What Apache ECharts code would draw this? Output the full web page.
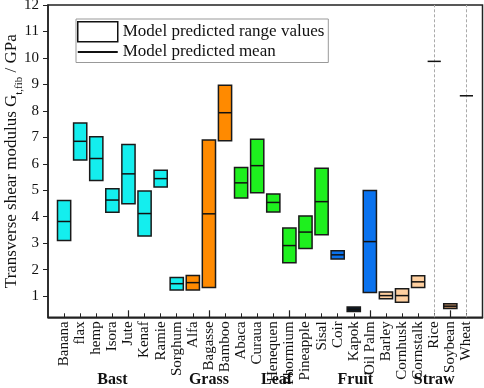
<!DOCTYPE html>
<html>
<head>
<meta charset="utf-8">
<script src="https://cdn.jsdelivr.net/npm/echarts@6/dist/echarts.min.js"></script>
<style>html,body{margin:0;padding:0;background:#fff}#c{width:484px;height:388px}</style>
</head>
<body>
<div id="c"></div>
<script>
const categories = ['Banana','flax','hemp','Isora','Jute','Kenaf','Ramie','Sorghum','Alfa','Bagasse','Bamboo','Abaca','Curaua','Henequen','Phormium','Pineapple','Sisal','Coir','Kapok','Oil Palm','Barley','Cornhusk','Cornstalk','Rice','Soybean','Wheat'];
const lows  = [3.10,6.14,5.37,4.17,4.49,3.27,5.12,1.23,1.23,1.33,6.87,4.71,4.91,4.18,2.26,2.80,3.32,2.40,0.42,1.14,0.90,0.77,1.33,null,0.53,null];
const highs = [4.61,7.54,7.02,5.06,6.73,4.97,5.76,1.70,1.78,6.90,8.97,5.86,6.93,4.86,3.57,4.03,5.83,2.71,0.59,4.99,1.16,1.28,1.77,null,0.71,null];
const means = [3.82,6.85,6.20,4.63,5.62,4.12,5.44,1.47,1.51,4.11,7.93,5.28,5.93,4.54,2.91,3.42,4.57,2.56,0.50,3.06,1.02,1.02,1.54,9.87,0.62,8.57];
const fillKeys = ['c','c','c','c','c','c','c','c','o','o','o','g','g','g','g','g','g','b','k','b','p','p','p','p','s','p'];
const groups = ['Bast','Grass','Leaf','Fruit','Straw'];
const groupPos = [4,10,14.2,19.1,24];
const yTicks = [1,2,3,4,5,6,7,8,9,10,11,12];
const majorX = [5,10,15,20,25];
const meanOnly = ['Rice','Wheat'];

const palette = {c:'#14eeee', o:'#ff8a00', g:'#1ef01e', b:'#0a72ee', k:'#0b1a2a', p:'#ffd0a0', s:'#c8946a'};
const FONT = "'Liberation Serif','Times New Roman',serif";
const pos = categories.map((c,i)=>i+1);

const boxData = [];
categories.forEach((c,i)=>{ if(lows[i]!=null) boxData.push([pos[i], lows[i], highs[i], i]); });
const meanData = categories.map((c,i)=>[pos[i], means[i], i]);

const chart = echarts.init(document.getElementById('c'), null, {renderer:'canvas'});
chart.setOption({
  animation:false,
  textStyle:{fontFamily:FONT},
  grid:{left:48, right:1.5, top:5, bottom:70.7, show:true, borderColor:'#222', borderWidth:1.5,
        backgroundColor:'transparent', containLabel:false, outerBoundsMode:'none'},
  legend:{
    orient:'vertical', left:76, top:19, itemWidth:40, itemHeight:20, itemGap:1,
    padding:[2,4,2,1], borderColor:'#999', borderWidth:1, selectedMode:false,
    textStyle:{fontSize:17, fontFamily:FONT, color:'#111'},
    data:[
      {name:'Model predicted range values', icon:'rect', itemStyle:{color:'#fff', borderColor:'#111', borderWidth:1.5}},
      {name:'Model predicted mean', icon:'path://M0,0 L36,0 L36,1.6 L0,1.6Z', itemStyle:{color:'#111'}}
    ]
  },
  xAxis:[
    {type:'value', min:0, max:27, position:'bottom',
     axisLine:{show:true, onZero:false, lineStyle:{color:'#222', width:1.5}},
     axisTick:{show:true, inside:true, length:4, customValues:pos, lineStyle:{color:'#222', width:1}},
     axisLabel:{customValues:pos, rotate:90, margin:4, fontSize:15, color:'#111', fontFamily:FONT,
       showMinLabel:true, showMaxLabel:true, hideOverlap:false,
       formatter:v=>categories[Math.round(v)-1]||''},
     splitLine:{show:false}},
    {type:'value', min:0, max:27, position:'bottom',
     axisLine:{show:false},
     axisTick:{show:true, inside:true, length:7, customValues:majorX, lineStyle:{color:'#222', width:1.2}},
     axisLabel:{show:false}, splitLine:{show:false}},
    {type:'value', min:0, max:27, position:'bottom',
     axisLine:{show:false}, axisTick:{show:false},
     axisLabel:{customValues:groupPos, margin:55, fontSize:16, fontWeight:'bold', color:'#111', fontFamily:FONT,
       showMinLabel:true, showMaxLabel:true, hideOverlap:false,
       formatter:v=>{const k=groupPos.findIndex(g=>Math.abs(g-v)<1e-6);return k>=0?groups[k]:'';}},
     splitLine:{show:false}}
  ],
  yAxis:{type:'value', min:0.2, max:12,
    name:'Transverse shear modulus G{s|t,fib} / GPa', nameLocation:'middle', nameGap:23, nameRotate:90,
    nameMoveOverlap:false,
    nameTextStyle:{fontSize:17, color:'#111', fontFamily:FONT,
      rich:{s:{fontSize:11, lineHeight:26, verticalAlign:'bottom', fontFamily:FONT, color:'#111'}}},
    axisLine:{show:true, onZero:false, lineStyle:{color:'#222', width:1.5}},
    axisTick:{show:true, inside:false, length:5, customValues:yTicks, lineStyle:{color:'#222'}},
    axisLabel:{customValues:yTicks, fontSize:15, color:'#111', margin:9, fontFamily:FONT,
      showMinLabel:true, showMaxLabel:true},
    splitLine:{show:false}},
  series:[
    {name:'Model predicted range values', type:'custom', xAxisIndex:0, yAxisIndex:0,
     data:boxData, z:2,
     renderItem:(params, api)=>{
       const x=api.value(0), lo=api.value(1), hi=api.value(2), idx=api.value(3);
       const p1=api.coord([x,hi]), p2=api.coord([x,lo]);
       const w=api.size([1,0])[0]*0.82;
       return {type:'rect', shape:{x:p1[0]-w/2, y:p1[1], width:w, height:p2[1]-p1[1]},
         style:{fill:palette[fillKeys[idx]], stroke:'#1a1a1a', lineWidth:1.5}};
     }},
    {name:'Model predicted mean', type:'custom', xAxisIndex:0, yAxisIndex:0,
     data:meanData, z:3,
     renderItem:(params, api)=>{
       const x=api.value(0), m=api.value(1);
       const p=api.coord([x,m]);
       const w=api.size([1,0])[0]*(0.82);
       return {type:'line', shape:{x1:p[0]-w/2, y1:p[1], x2:p[0]+w/2, y2:p[1]},
         style:{stroke:'#111', lineWidth:1.5}};
     },
     markLine:{silent:true, symbol:'none', label:{show:false}, z:1,
       lineStyle:{color:'#aaa', type:[3,2], width:1},
       data:meanOnly.map(n=>({xAxis:pos[categories.indexOf(n)]}))}}
  ]
});
</script>
</body>
</html>
